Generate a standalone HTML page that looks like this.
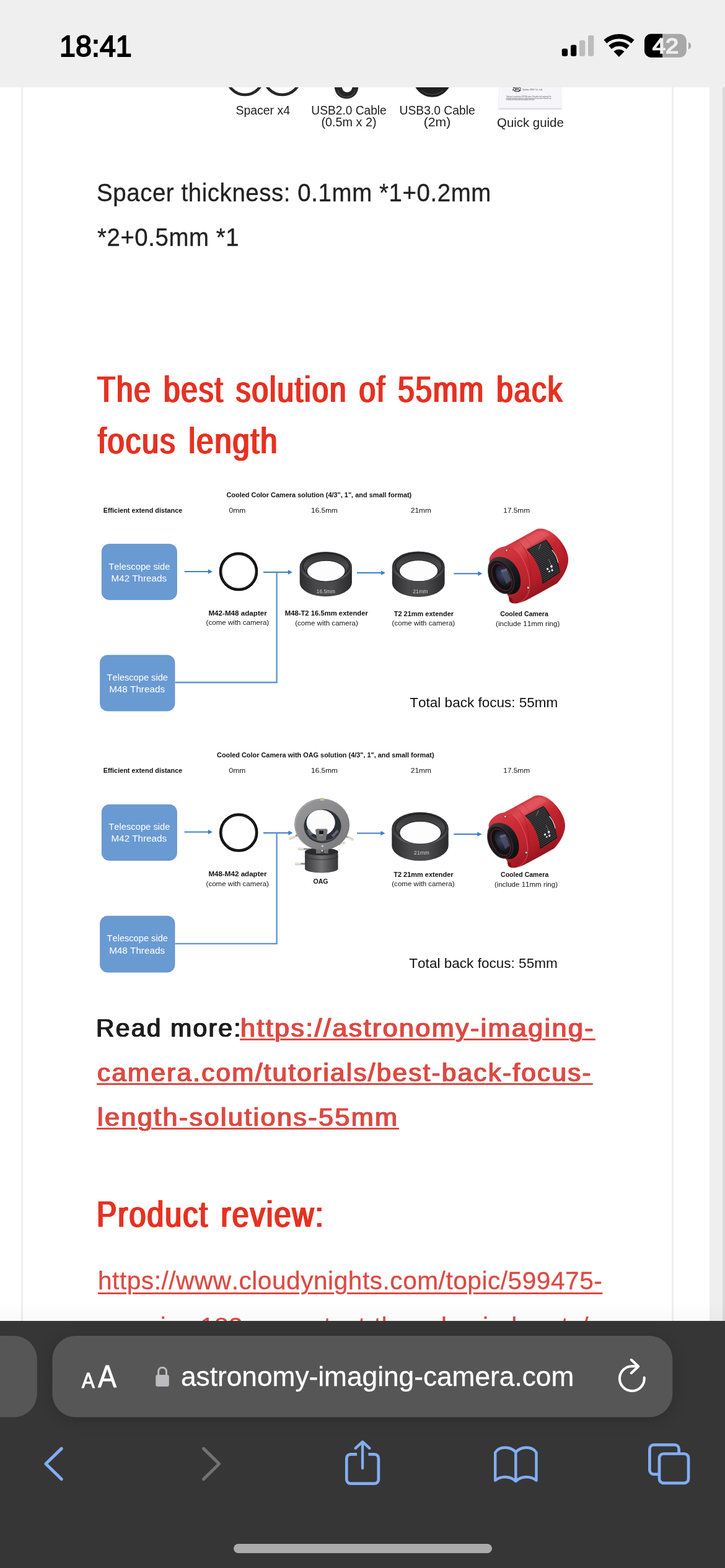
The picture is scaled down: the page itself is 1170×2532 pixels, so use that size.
<!DOCTYPE html>
<html lang="en">
<head>
<meta charset="utf-8">
<meta name="viewport" content="width=1170">
<title>astronomy-imaging-camera.com</title>
<style>
*{box-sizing:border-box;margin:0;padding:0}
html,body{width:1170px;height:2532px;overflow:hidden;background:#fff}
body{position:relative;font-family:"Liberation Sans",sans-serif;color:#222}
#screen{position:absolute;left:0;top:0;width:1170px;height:2532px;overflow:hidden;will-change:transform}
.t{position:absolute;display:block;white-space:nowrap;font-kerning:none;transform-origin:0 50%;font-family:"Liberation Sans",sans-serif}
.abs{position:absolute}
a{color:inherit;text-decoration:none}
svg{position:absolute;overflow:visible}
svg text{font-family:"Liberation Sans",sans-serif;font-kerning:none;white-space:pre}
</style>
</head>
<body>
<div id="screen">

<div class="abs" style="left:34px;top:141px;width:3px;height:1992px;background:#efefef"></div>
<div class="abs" style="left:1084px;top:141px;width:3px;height:1992px;background:#efefef"></div>
<div class="abs" style="left:1145px;top:141px;width:21px;height:1992px;background:#efefef"></div>
<div class="abs" style="left:1166px;top:141px;width:4px;height:1992px;background:#dadada"></div>
<div id="content">
<svg id="accessories" style="left:0;top:100px" width="1170" height="130" viewBox="0 100 1170 130"><circle cx="395.3" cy="123.5" r="29.5" fill="none" stroke="#262626" stroke-width="4.6"/><circle cx="455.4" cy="123.5" r="29.5" fill="none" stroke="#262626" stroke-width="4.6"/><path d="M539.700 140 C540.500 151.500 548 159.400 559.100 159.400 C570.200 159.400 577.700 151.500 578.400 140 H568.600 C568.300 145.200 564.900 149 560.200 149 C555.500 149 552.100 145.200 551.800 140 Z" fill="#262626"/><path d="M545 146 C547.500 153.500 553 156.600 559.100 156.600 C565.200 156.600 570.700 153.500 573.200 146" stroke="#4a4a4a" stroke-width="1.2" fill="none"/><path d="M669.700 140 C676 150.500 686 156.800 697.600 156.800 C709.200 156.800 719.200 150.500 725.400 140 Z" fill="#1f1f1f"/><path d="M680 146 C685 150.500 691 152.600 697.600 152.600 C704.200 152.600 710.200 150.500 715.200 146" stroke="#454545" stroke-width="1.1" fill="none"/><path d="M805.6 140 H905 L906.4 176.700 H804.200 Z" fill="#f6f6fa"/><path d="M804.300 174.600 H906.300 L906.400 177 H804.200 Z" fill="#dddde9"/><path d="M805.6 140 L804.200 176.700 M905 140 L906.400 176.700" stroke="#eeeef4" stroke-width="1.2"/><text transform="translate(827.03 146.20) scale(0.5839 0.7400)" font-size="10" fill="#1a1a22" font-weight="bold" font-style="italic">ZWO</text><path d="M829.500 146.300 q5.500 3.600 10.800 -0.600" stroke="#1a1a22" stroke-width="1.1" fill="none"/><text transform="translate(843.15 145.70) scale(0.3278 0.3600)" font-size="10" fill="#44444c">Suzhou ZWO Co., Ltd</text><text transform="translate(816.65 157.20) scale(0.2052 0.2700)" font-size="10" fill="#55555c">Thank you for purchasing a ZWO ASI camera. This guide is brief summary of the</text><text transform="translate(816.57 159.70) scale(0.1917 0.2700)" font-size="10" fill="#55555c">installation procedure to get you up and running with your new camera. Please be sure</text><text transform="translate(816.67 162.20) scale(0.1889 0.2700)" font-size="10" fill="#55555c">to read the user manual for more complete instructions.</text><text transform="translate(380.42 185.00) scale(0.9921 1)" font-size="19.6" fill="#1c1c1c">Spacer x4</text><text transform="translate(502.32 185.00) scale(0.9785 1)" font-size="19.6" fill="#1c1c1c">USB2.0 Cable</text><text transform="translate(518.47 204.20) scale(1.0106 1)" font-size="19.6" fill="#1c1c1c">(0.5m x 2)</text><text transform="translate(644.51 184.50) scale(0.9851 1)" font-size="19.6" fill="#1c1c1c">USB3.0 Cable</text><text transform="translate(683.68 203.80) scale(1.0832 1)" font-size="19.6" fill="#1c1c1c">(2m)</text><text transform="translate(802.03 205.00) scale(1.0422 1)" font-size="19.6" fill="#1c1c1c">Quick guide</text></svg>
<div class="t" style="left:156.05px;top:290.26px;font-size:41.5px;line-height:41.5px;color:#222;letter-spacing:0.6px;transform:scaleX(0.9271);-webkit-text-stroke:0.35px;">Spacer thickness: 0.1mm *1+0.2mm</div>
<div class="t" style="left:157.18px;top:361.66px;font-size:41.5px;line-height:41.5px;color:#222;letter-spacing:0.6px;transform:scaleX(0.9249);-webkit-text-stroke:0.35px;">*2+0.5mm *1</div>
<div class="t" style="left:157.13px;top:598.54px;font-size:59.6px;line-height:59.6px;color:#e53222;letter-spacing:2.5px;word-spacing:5px;transform:scaleX(0.7966);text-shadow:0.50px 0 0 #e53222,-0.50px 0 0 #e53222,1.00px 0 0 #e53222,-1.00px 0 0 #e53222,1.50px 0 0 #e53222,-1.50px 0 0 #e53222;">The best solution of 55mm back</div>
<div class="t" style="left:157.54px;top:681.74px;font-size:59.6px;line-height:59.6px;color:#e53222;letter-spacing:2.5px;word-spacing:5px;transform:scaleX(0.8178);text-shadow:0.50px 0 0 #e53222,-0.50px 0 0 #e53222,1.00px 0 0 #e53222,-1.00px 0 0 #e53222,1.50px 0 0 #e53222,-1.50px 0 0 #e53222;">focus length</div>
<svg id="diagram1" style="left:0;top:760px" width="1170" height="420" viewBox="0 760 1170 420"><text transform="translate(365.45 802.60) scale(0.9353 1)" font-size="11.7" fill="#111" font-weight="bold">Cooled Color Camera solution (4/3", 1", and small format)</text><text transform="translate(166.67 828.00) scale(0.9264 1)" font-size="11.7" fill="#111" font-weight="bold">Efficient extend distance</text><text transform="translate(369.53 828.00) scale(1.1050 1)" font-size="10.9" fill="#111">0mm</text><text transform="translate(502.10 828.00) scale(1.0892 1)" font-size="10.9" fill="#111">16.5mm</text><text transform="translate(662.70 828.00) scale(1.1028 1)" font-size="10.9" fill="#111">21mm</text><text transform="translate(812.30 828.20) scale(1.0892 1)" font-size="10.9" fill="#111">17.5mm</text><rect x="164.3" y="878.6" width="121.1" height="89.8" rx="12" fill="#6a9ad2" stroke="#6190c9" stroke-width="0.8"/><text transform="translate(175.27 919.50) scale(0.9702 1)" font-size="15.2" fill="#fff">Telescope side</text><text transform="translate(179.55 939.00) scale(1.0005 1)" font-size="15.2" fill="#fff">M42 Threads</text><rect x="161.6" y="1058.0" width="120.4" height="90.1" rx="12" fill="#6a9ad2" stroke="#6190c9" stroke-width="0.8"/><text transform="translate(172.57 1098.50) scale(0.9623 1)" font-size="15.2" fill="#fff">Telescope side</text><text transform="translate(176.15 1118.30) scale(1.0051 1)" font-size="15.2" fill="#fff">M48 Threads</text><path d="M297.7 923 H338" stroke="#3f7ec8" stroke-width="2.1" fill="none"/><path d="M343 923 L335.8 919.2 V926.8Z" fill="#3f7ec8"/><circle cx="385" cy="923" r="29.0" fill="none" stroke="#0c0c0c" stroke-width="4.6"/><circle cx="385" cy="923" r="28.4" fill="none" stroke="#3a3a3a" stroke-width="0.8"/><path d="M425 924 H466" stroke="#3f7ec8" stroke-width="2.1" fill="none"/><path d="M472 924 l-7.2 -3.8 v7.600Z" fill="#3f7ec8"/><path d="M446.6 924 V1102 H282.6" stroke="#5b92d2" stroke-width="2.3" fill="none"/><defs><linearGradient id="eg1" x1="0" x2="1" y1="0" y2="0"><stop offset="0" stop-color="#2c2c2e"/><stop offset="0.3" stop-color="#48484a"/><stop offset="0.62" stop-color="#4c4c4e"/><stop offset="1" stop-color="#29292b"/></linearGradient><linearGradient id="eg1i" x1="0" x2="0" y1="0" y2="1"><stop offset="0" stop-color="#333335"/><stop offset="0.45" stop-color="#4a4a4c"/><stop offset="1" stop-color="#2a2a2c"/></linearGradient><linearGradient id="eg1t" x1="0" x2="0" y1="0" y2="1"><stop offset="0" stop-color="#2a2a2c"/><stop offset="0.6" stop-color="#3c3c3e"/><stop offset="1" stop-color="#6a6a6c"/></linearGradient></defs><path d="M483.7 915.2 V941.0 A42.1 22.3 0 0 0 567.9 941.0 V915.2 Z" fill="url(#eg1)"/><ellipse cx="525.8" cy="915.2" rx="42.1" ry="24.2" fill="url(#eg1t)"/><ellipse cx="526.4" cy="914.6" rx="37.3" ry="21.1" fill="url(#eg1i)" stroke="#1e1e20" stroke-width="1.2"/><ellipse cx="526.2" cy="922.1" rx="30.9" ry="16.9" fill="#fdfdfd" stroke="#252527" stroke-width="1.1"/><text transform="translate(510.87 957.80) scale(0.9880 1)" font-size="8.4" fill="#cdcdcd">16.5mm</text><path d="M576 925 H617" stroke="#3f7ec8" stroke-width="2.1" fill="none"/><path d="M622 925 L614.8 921.2 V928.8Z" fill="#3f7ec8"/><defs><linearGradient id="eg2" x1="0" x2="1" y1="0" y2="0"><stop offset="0" stop-color="#2c2c2e"/><stop offset="0.3" stop-color="#48484a"/><stop offset="0.62" stop-color="#4c4c4e"/><stop offset="1" stop-color="#29292b"/></linearGradient><linearGradient id="eg2i" x1="0" x2="0" y1="0" y2="1"><stop offset="0" stop-color="#333335"/><stop offset="0.45" stop-color="#4a4a4c"/><stop offset="1" stop-color="#2a2a2c"/></linearGradient><linearGradient id="eg2t" x1="0" x2="0" y1="0" y2="1"><stop offset="0" stop-color="#2a2a2c"/><stop offset="0.6" stop-color="#3c3c3e"/><stop offset="1" stop-color="#6a6a6c"/></linearGradient></defs><path d="M632.8 914.9 V941.5 A42.4 22.5 0 0 0 717.6 941.5 V914.9 Z" fill="url(#eg2)"/><ellipse cx="675.2" cy="914.9" rx="42.4" ry="24.4" fill="url(#eg2t)"/><ellipse cx="675.8" cy="914.3" rx="37.5" ry="21.2" fill="url(#eg2i)" stroke="#1e1e20" stroke-width="1.2"/><ellipse cx="675.6" cy="921.8" rx="31.2" ry="17.1" fill="#fdfdfd" stroke="#252527" stroke-width="1.1"/><text transform="translate(666.26 957.60) scale(1.0420 1)" font-size="8.4" fill="#cdcdcd">21mm</text><path d="M732.3 926.3 H773.5" stroke="#3f7ec8" stroke-width="2.1" fill="none"/><path d="M778.5 926.3 L771.3 922.5 V930.0999999999999Z" fill="#3f7ec8"/><g transform="translate(780 845) scale(0.12393)"><defs><linearGradient id="cg3a" gradientUnits="userSpaceOnUse" x1="420" y1="180" x2="900" y2="900"><stop offset="0" stop-color="#cf323b"/><stop offset="0.18" stop-color="#dc4a52"/><stop offset="0.4" stop-color="#c4262f"/><stop offset="0.7" stop-color="#b41e28"/><stop offset="1" stop-color="#84121b"/></linearGradient><linearGradient id="cg3b" gradientUnits="userSpaceOnUse" x1="150" y1="330" x2="560" y2="1000"><stop offset="0" stop-color="#d63d46"/><stop offset="0.35" stop-color="#c92b35"/><stop offset="0.75" stop-color="#b8222c"/><stop offset="1" stop-color="#991720"/></linearGradient><linearGradient id="cg3d" gradientUnits="userSpaceOnUse" x1="80" y1="500" x2="470" y2="900"><stop offset="0" stop-color="#3a3a3c"/><stop offset="0.5" stop-color="#1b1b1d"/><stop offset="1" stop-color="#0e0e10"/></linearGradient><radialGradient id="cg3c" gradientUnits="userSpaceOnUse" cx="270" cy="670" r="170"><stop offset="0" stop-color="#444a62"/><stop offset="0.5" stop-color="#26283a"/><stop offset="1" stop-color="#141416"/></radialGradient></defs><path d="M250 318 L420 228 L690 78 C770 48 890 92 985 205 C1062 295 1110 400 1106 485 C1100 585 1040 700 960 782 L740 906 L560 1002 C500 1032 430 1052 380 1030 Z" fill="url(#cg3a)"/><path d="M985 205 C1062 295 1110 400 1106 485 C1100 585 1040 700 960 782 C1010 700 1050 590 1048 490 C1046 390 1020 290 985 205 Z" fill="#b01c26" opacity="0.55"/><path d="M440 250 L700 105 C760 92 820 110 860 150 L560 330 Z" fill="#f07a80" opacity="0.28"/><path d="M430 222 C560 300 660 520 610 980" stroke="#9c1720" stroke-width="7" fill="none" opacity="0.75"/><path d="M520 178 C650 260 770 520 745 900" stroke="#a81b25" stroke-width="5" fill="none" opacity="0.6"/><path d="M568 344 L818 214 C900 300 975 470 1000 640 L772 790 C760 640 690 460 568 344 Z" fill="#1a1a1c"/><path d="M594 354 L825 233" stroke="#77777b" stroke-width="5.5" fill="none"/><path d="M606 371 L836 250" stroke="#77777b" stroke-width="5.5" fill="none"/><path d="M617 388 L846 268" stroke="#77777b" stroke-width="5.5" fill="none"/><path d="M628 405 L856 285" stroke="#77777b" stroke-width="5.5" fill="none"/><path d="M639 423 L866 303" stroke="#77777b" stroke-width="5.5" fill="none"/><path d="M650 441 L876 321" stroke="#77777b" stroke-width="5.5" fill="none"/><path d="M660 460 L885 340" stroke="#77777b" stroke-width="5.5" fill="none"/><path d="M670 478 L895 358" stroke="#77777b" stroke-width="5.5" fill="none"/><path d="M680 498 L903 377" stroke="#77777b" stroke-width="5.5" fill="none"/><path d="M690 517 L912 396" stroke="#77777b" stroke-width="5.5" fill="none"/><path d="M699 538 L920 416" stroke="#77777b" stroke-width="5.5" fill="none"/><path d="M708 558 L929 435" stroke="#77777b" stroke-width="5.5" fill="none"/><path d="M717 579 L937 455" stroke="#77777b" stroke-width="5.5" fill="none"/><path d="M726 600 L944 475" stroke="#77777b" stroke-width="5.5" fill="none"/><path d="M734 622 L952 495" stroke="#77777b" stroke-width="5.5" fill="none"/><path d="M742 644 L959 515" stroke="#77777b" stroke-width="5.5" fill="none"/><path d="M750 666 L966 536" stroke="#77777b" stroke-width="5.5" fill="none"/><path d="M758 689 L972 557" stroke="#77777b" stroke-width="5.5" fill="none"/><path d="M765 712 L978 578" stroke="#77777b" stroke-width="5.5" fill="none"/><path d="M772 736 L985 599" stroke="#77777b" stroke-width="5.5" fill="none"/><path d="M779 760 L990 620" stroke="#77777b" stroke-width="5.5" fill="none"/><path d="M568 344 L818 214" stroke="#3a3a3c" stroke-width="10"/><path d="M820 590 l22 -12 l10 22 l-22 12 Z M870 556 l24 -13 l10 24 l-24 13 Z M846 624 l18 -10 l8 18 l-18 10 Z M882 606 l20 -11 l9 22 l-20 11 Z" fill="#f4f4f4"/><path d="M896 352 C930 390 960 450 974 510" stroke="#ececec" stroke-width="9" fill="none" stroke-linecap="round"/><path d="M722 338 L748 276" stroke="#d8d8d8" stroke-width="4" fill="none" stroke-linecap="round"/><path d="M850 470 C875 520 890 560 896 600" stroke="#bdbdbd" stroke-width="4" fill="none" stroke-linecap="round"/><path d="M78 470 C84 410 150 340 236 310 C300 290 360 300 400 330 C520 420 610 640 604 830 C600 920 540 1010 450 1040 C410 1052 370 1046 340 1015 L330 960 L80 520 Z" fill="url(#cg3b)"/><path d="M400 330 C520 420 610 640 604 830 C600 920 540 1010 450 1040" stroke="#ef7077" stroke-width="8" fill="none" opacity="0.7"/><path d="M330 960 L340 1015 C352 1030 368 1040 390 1044 L372 975 Z" fill="#7d1018"/><path d="M62 600 C56 540 80 480 150 450 C230 420 330 450 400 530 C470 610 500 730 480 820 C460 900 400 935 330 925 C230 910 80 760 62 600 Z" fill="url(#cg3d)"/><ellipse cx="232" cy="700" rx="150" ry="232" transform="rotate(-27 232 700)" fill="#19191b" stroke="#3c3c3e" stroke-width="7"/><ellipse cx="240" cy="700" rx="112" ry="190" transform="rotate(-27 240 700)" fill="#111113" stroke="#c8242e" stroke-width="5"/><ellipse cx="262" cy="690" rx="86" ry="150" transform="rotate(-27 262 690)" fill="url(#cg3c)"/><path d="M226 612 L300 590 L362 742 L300 790 Z" fill="#4c536e" opacity="0.8"/><path d="M226 612 L300 590 L312 620 L238 644 Z" fill="#6c7492" opacity="0.6"/><circle cx="302" cy="356" r="19" fill="#6a1218"/><circle cx="302" cy="354" r="13" fill="#e6e6e6"/><circle cx="302" cy="354" r="5" fill="#8a8a8a"/><circle cx="584" cy="842" r="20" fill="#6a1218"/><circle cx="584" cy="840" r="14" fill="#e6e6e6"/><circle cx="584" cy="840" r="5" fill="#8a8a8a"/></g><text transform="translate(336.42 993.80) scale(0.9960 1)" font-size="11.7" fill="#111" font-weight="bold">M42-M48 adapter</text><text transform="translate(332.58 1009.20) scale(1.0631 1)" font-size="10.9" fill="#111">(come with camera)</text><text transform="translate(459.75 994.00) scale(0.9645 1)" font-size="11.7" fill="#111" font-weight="bold">M48-T2 16.5mm extender</text><text transform="translate(476.18 1009.50) scale(1.0631 1)" font-size="10.9" fill="#111">(come with camera)</text><text transform="translate(635.78 994.90) scale(0.9381 1)" font-size="11.7" fill="#111" font-weight="bold">T2 21mm extender</text><text transform="translate(632.58 1010.30) scale(1.0631 1)" font-size="10.9" fill="#111">(come with camera)</text><text transform="translate(807.27 995.10) scale(0.9038 1)" font-size="11.7" fill="#111" font-weight="bold">Cooled Camera</text><text transform="translate(800.07 1010.50) scale(1.0741 1)" font-size="10.9" fill="#111">(include 11mm ring)</text><text transform="translate(661.29 1141.50) scale(1.0432 1)" font-size="21.6" fill="#111">Total back focus: 55mm</text></svg>
<svg id="diagram2" style="left:0;top:1180px" width="1170" height="420" viewBox="0 1180 1170 420"><text transform="translate(350.05 1222.60) scale(0.9324 1)" font-size="11.7" fill="#111" font-weight="bold">Cooled Color Camera with OAG solution (4/3", 1", and small format)</text><text transform="translate(166.67 1248.00) scale(0.9264 1)" font-size="11.7" fill="#111" font-weight="bold">Efficient extend distance</text><text transform="translate(369.53 1248.00) scale(1.1050 1)" font-size="10.9" fill="#111">0mm</text><text transform="translate(502.10 1248.00) scale(1.0892 1)" font-size="10.9" fill="#111">16.5mm</text><text transform="translate(662.70 1248.00) scale(1.1028 1)" font-size="10.9" fill="#111">21mm</text><text transform="translate(812.30 1248.20) scale(1.0892 1)" font-size="10.9" fill="#111">17.5mm</text><rect x="164.3" y="1299.3" width="121.1" height="90.1" rx="12" fill="#6a9ad2" stroke="#6190c9" stroke-width="0.8"/><text transform="translate(175.27 1339.70) scale(0.9702 1)" font-size="15.2" fill="#fff">Telescope side</text><text transform="translate(179.55 1359.20) scale(1.0005 1)" font-size="15.2" fill="#fff">M42 Threads</text><rect x="161.6" y="1479.2" width="120.4" height="90.8" rx="12" fill="#6a9ad2" stroke="#6190c9" stroke-width="0.8"/><text transform="translate(172.57 1520.30) scale(0.9623 1)" font-size="15.2" fill="#fff">Telescope side</text><text transform="translate(176.15 1540.20) scale(1.0051 1)" font-size="15.2" fill="#fff">M48 Threads</text><path d="M297.7 1343.5 H338" stroke="#3f7ec8" stroke-width="2.1" fill="none"/><path d="M343 1343.5 L335.8 1339.7 V1347.3Z" fill="#3f7ec8"/><circle cx="385.2" cy="1344.5" r="29.0" fill="none" stroke="#0c0c0c" stroke-width="4.6"/><circle cx="385.2" cy="1344.5" r="28.4" fill="none" stroke="#3a3a3a" stroke-width="0.8"/><path d="M425 1345 H466" stroke="#3f7ec8" stroke-width="2.1" fill="none"/><path d="M472.600 1345 l-7.2 -3.8 v7.600Z" fill="#3f7ec8"/><path d="M446.6 1345 V1523.8 H282.6" stroke="#5b92d2" stroke-width="2.3" fill="none"/><g transform="translate(460 1270) scale(0.10684)"><defs><linearGradient id="og4a" x1="0" y1="0" x2="1" y2="0"><stop offset="0" stop-color="#3a3a3c"/><stop offset="0.25" stop-color="#555557"/><stop offset="0.5" stop-color="#737375"/><stop offset="0.75" stop-color="#525254"/><stop offset="1" stop-color="#363638"/></linearGradient><linearGradient id="og4b" x1="0" y1="0" x2="1" y2="1"><stop offset="0" stop-color="#9a9a9c"/><stop offset="0.45" stop-color="#8a8a8c"/><stop offset="1" stop-color="#7a7a7c"/></linearGradient><linearGradient id="og4s" x1="0" y1="0" x2="0" y2="1"><stop offset="0" stop-color="#f4f2ea"/><stop offset="1" stop-color="#cfcabb"/></linearGradient></defs><g transform="translate(60 790) rotate(-22.8)"><rect x="104.46197490364999" y="-13" width="40" height="26" fill="#8c8c88"/><rect x="0" y="-22" width="108" height="44" rx="9" fill="url(#og4s)"/></g><g transform="translate(192 940) rotate(2.6)"><rect x="84.09086218218096" y="-13" width="130" height="26" fill="#8c8c88"/><rect x="0" y="-22" width="88" height="44" rx="9" fill="url(#og4s)"/></g><g transform="translate(150 1166) rotate(1.3)"><rect x="86.0222194794152" y="-14" width="90" height="28" fill="#8c8c88"/><rect x="0" y="-23" width="90" height="46" rx="9" fill="url(#og4s)"/></g><g transform="translate(1030 812) rotate(-152.6)"><rect x="91.71311299921238" y="-13" width="30" height="26" fill="#8c8c88"/><rect x="0" y="-22" width="96" height="44" rx="9" fill="url(#og4s)"/></g><g transform="translate(910 856) rotate(168.7)"><rect x="77.58431221748455" y="-12" width="20" height="24" fill="#8c8c88"/><rect x="0" y="-20" width="82" height="40" rx="9" fill="url(#og4s)"/></g><path d="M300 985 V1245 A250 60 0 0 0 800 1245 V985 Z" fill="url(#og4a)"/><ellipse cx="550" cy="985" rx="250" ry="56" fill="#2a2a2c"/><path d="M300 1050 A250 56 0 0 0 800 1050" stroke="#242426" stroke-width="9" fill="none" opacity="0.8"/><path d="M468 930 H652 V1012 H468 Z" fill="#707072"/><path d="M540 930 H590 V1012 H540 Z" fill="#4e4e50"/><ellipse cx="556" cy="572" rx="412" ry="386" fill="#a6a6a8"/><ellipse cx="568" cy="580" rx="406" ry="380" fill="url(#og4b)"/><ellipse cx="556" cy="572" rx="412" ry="386" fill="none" stroke="#6a6a6c" stroke-width="6" opacity="0.7"/><ellipse cx="566" cy="600" rx="282" ry="256" fill="#2b2f36"/><ellipse cx="540" cy="546" rx="216" ry="196" fill="#fcfcfc"/><path d="M310 640 C340 760 470 850 600 840 C720 830 810 760 838 660 C790 770 690 810 590 806 C470 800 360 740 310 640 Z" fill="#4a4f58"/><path d="M330 655 L370 640 L420 720 L380 745 Z M700 740 L790 650 L810 680 L730 770 Z" fill="#70757e" opacity="0.8"/><path d="M460 668 C460 642 486 636 510 642 L598 640 C626 634 646 646 642 672 L618 800 C608 830 492 830 482 800 Z" fill="#737375"/><path d="M516 668 H578 V722 H516 Z" fill="#17191f"/><path d="M516 722 H578 V742 H516 Z" fill="#9a9a9c"/><circle cx="565" cy="900" r="17" fill="#d9d9d9" stroke="#6a6a6c" stroke-width="4"/><circle cx="560" cy="972" r="14" fill="#d0d0d0"/><rect x="528" y="172" width="62" height="44" rx="8" fill="#c4bc9c"/></g><path d="M576 1345.5 H616.5" stroke="#3f7ec8" stroke-width="2.1" fill="none"/><path d="M621.5 1345.5 L614.3 1341.7 V1349.3Z" fill="#3f7ec8"/><defs><linearGradient id="eg5" x1="0" x2="1" y1="0" y2="0"><stop offset="0" stop-color="#2c2c2e"/><stop offset="0.3" stop-color="#48484a"/><stop offset="0.62" stop-color="#4c4c4e"/><stop offset="1" stop-color="#29292b"/></linearGradient><linearGradient id="eg5i" x1="0" x2="0" y1="0" y2="1"><stop offset="0" stop-color="#333335"/><stop offset="0.45" stop-color="#4a4a4c"/><stop offset="1" stop-color="#2a2a2c"/></linearGradient><linearGradient id="eg5t" x1="0" x2="0" y1="0" y2="1"><stop offset="0" stop-color="#2a2a2c"/><stop offset="0.6" stop-color="#3c3c3e"/><stop offset="1" stop-color="#6a6a6c"/></linearGradient></defs><path d="M632.3 1337.8 V1365.8 A45.7 24.2 0 0 0 723.7 1365.8 V1337.8 Z" fill="url(#eg5)"/><ellipse cx="678" cy="1337.8" rx="45.7" ry="26.3" fill="url(#eg5t)"/><ellipse cx="678.6" cy="1337.2" rx="40.4" ry="22.9" fill="url(#eg5i)" stroke="#1e1e20" stroke-width="1.2"/><ellipse cx="678.4" cy="1344.7" rx="33.6" ry="18.4" fill="#fdfdfd" stroke="#252527" stroke-width="1.1"/><text transform="translate(667.85 1380.20) scale(1.0733 1)" font-size="8.4" fill="#cdcdcd">21mm</text><path d="M732.3 1347 H772.5" stroke="#3f7ec8" stroke-width="2.1" fill="none"/><path d="M777.5 1347 L770.3 1343.2 V1350.8Z" fill="#3f7ec8"/><g transform="translate(779.2 1276.1) scale(0.11997)"><defs><linearGradient id="cg6a" gradientUnits="userSpaceOnUse" x1="420" y1="180" x2="900" y2="900"><stop offset="0" stop-color="#cf323b"/><stop offset="0.18" stop-color="#dc4a52"/><stop offset="0.4" stop-color="#c4262f"/><stop offset="0.7" stop-color="#b41e28"/><stop offset="1" stop-color="#84121b"/></linearGradient><linearGradient id="cg6b" gradientUnits="userSpaceOnUse" x1="150" y1="330" x2="560" y2="1000"><stop offset="0" stop-color="#d63d46"/><stop offset="0.35" stop-color="#c92b35"/><stop offset="0.75" stop-color="#b8222c"/><stop offset="1" stop-color="#991720"/></linearGradient><linearGradient id="cg6d" gradientUnits="userSpaceOnUse" x1="80" y1="500" x2="470" y2="900"><stop offset="0" stop-color="#3a3a3c"/><stop offset="0.5" stop-color="#1b1b1d"/><stop offset="1" stop-color="#0e0e10"/></linearGradient><radialGradient id="cg6c" gradientUnits="userSpaceOnUse" cx="270" cy="670" r="170"><stop offset="0" stop-color="#444a62"/><stop offset="0.5" stop-color="#26283a"/><stop offset="1" stop-color="#141416"/></radialGradient></defs><path d="M250 318 L420 228 L690 78 C770 48 890 92 985 205 C1062 295 1110 400 1106 485 C1100 585 1040 700 960 782 L740 906 L560 1002 C500 1032 430 1052 380 1030 Z" fill="url(#cg6a)"/><path d="M985 205 C1062 295 1110 400 1106 485 C1100 585 1040 700 960 782 C1010 700 1050 590 1048 490 C1046 390 1020 290 985 205 Z" fill="#b01c26" opacity="0.55"/><path d="M440 250 L700 105 C760 92 820 110 860 150 L560 330 Z" fill="#f07a80" opacity="0.28"/><path d="M430 222 C560 300 660 520 610 980" stroke="#9c1720" stroke-width="7" fill="none" opacity="0.75"/><path d="M520 178 C650 260 770 520 745 900" stroke="#a81b25" stroke-width="5" fill="none" opacity="0.6"/><path d="M568 344 L818 214 C900 300 975 470 1000 640 L772 790 C760 640 690 460 568 344 Z" fill="#1a1a1c"/><path d="M594 354 L825 233" stroke="#77777b" stroke-width="5.5" fill="none"/><path d="M606 371 L836 250" stroke="#77777b" stroke-width="5.5" fill="none"/><path d="M617 388 L846 268" stroke="#77777b" stroke-width="5.5" fill="none"/><path d="M628 405 L856 285" stroke="#77777b" stroke-width="5.5" fill="none"/><path d="M639 423 L866 303" stroke="#77777b" stroke-width="5.5" fill="none"/><path d="M650 441 L876 321" stroke="#77777b" stroke-width="5.5" fill="none"/><path d="M660 460 L885 340" stroke="#77777b" stroke-width="5.5" fill="none"/><path d="M670 478 L895 358" stroke="#77777b" stroke-width="5.5" fill="none"/><path d="M680 498 L903 377" stroke="#77777b" stroke-width="5.5" fill="none"/><path d="M690 517 L912 396" stroke="#77777b" stroke-width="5.5" fill="none"/><path d="M699 538 L920 416" stroke="#77777b" stroke-width="5.5" fill="none"/><path d="M708 558 L929 435" stroke="#77777b" stroke-width="5.5" fill="none"/><path d="M717 579 L937 455" stroke="#77777b" stroke-width="5.5" fill="none"/><path d="M726 600 L944 475" stroke="#77777b" stroke-width="5.5" fill="none"/><path d="M734 622 L952 495" stroke="#77777b" stroke-width="5.5" fill="none"/><path d="M742 644 L959 515" stroke="#77777b" stroke-width="5.5" fill="none"/><path d="M750 666 L966 536" stroke="#77777b" stroke-width="5.5" fill="none"/><path d="M758 689 L972 557" stroke="#77777b" stroke-width="5.5" fill="none"/><path d="M765 712 L978 578" stroke="#77777b" stroke-width="5.5" fill="none"/><path d="M772 736 L985 599" stroke="#77777b" stroke-width="5.5" fill="none"/><path d="M779 760 L990 620" stroke="#77777b" stroke-width="5.5" fill="none"/><path d="M568 344 L818 214" stroke="#3a3a3c" stroke-width="10"/><path d="M820 590 l22 -12 l10 22 l-22 12 Z M870 556 l24 -13 l10 24 l-24 13 Z M846 624 l18 -10 l8 18 l-18 10 Z M882 606 l20 -11 l9 22 l-20 11 Z" fill="#f4f4f4"/><path d="M896 352 C930 390 960 450 974 510" stroke="#ececec" stroke-width="9" fill="none" stroke-linecap="round"/><path d="M722 338 L748 276" stroke="#d8d8d8" stroke-width="4" fill="none" stroke-linecap="round"/><path d="M850 470 C875 520 890 560 896 600" stroke="#bdbdbd" stroke-width="4" fill="none" stroke-linecap="round"/><path d="M78 470 C84 410 150 340 236 310 C300 290 360 300 400 330 C520 420 610 640 604 830 C600 920 540 1010 450 1040 C410 1052 370 1046 340 1015 L330 960 L80 520 Z" fill="url(#cg6b)"/><path d="M400 330 C520 420 610 640 604 830 C600 920 540 1010 450 1040" stroke="#ef7077" stroke-width="8" fill="none" opacity="0.7"/><path d="M330 960 L340 1015 C352 1030 368 1040 390 1044 L372 975 Z" fill="#7d1018"/><path d="M62 600 C56 540 80 480 150 450 C230 420 330 450 400 530 C470 610 500 730 480 820 C460 900 400 935 330 925 C230 910 80 760 62 600 Z" fill="url(#cg6d)"/><ellipse cx="232" cy="700" rx="150" ry="232" transform="rotate(-27 232 700)" fill="#19191b" stroke="#3c3c3e" stroke-width="7"/><ellipse cx="240" cy="700" rx="112" ry="190" transform="rotate(-27 240 700)" fill="#111113" stroke="#c8242e" stroke-width="5"/><ellipse cx="262" cy="690" rx="86" ry="150" transform="rotate(-27 262 690)" fill="url(#cg6c)"/><path d="M226 612 L300 590 L362 742 L300 790 Z" fill="#4c536e" opacity="0.8"/><path d="M226 612 L300 590 L312 620 L238 644 Z" fill="#6c7492" opacity="0.6"/><circle cx="302" cy="356" r="19" fill="#6a1218"/><circle cx="302" cy="354" r="13" fill="#e6e6e6"/><circle cx="302" cy="354" r="5" fill="#8a8a8a"/><circle cx="584" cy="842" r="20" fill="#6a1218"/><circle cx="584" cy="840" r="14" fill="#e6e6e6"/><circle cx="584" cy="840" r="5" fill="#8a8a8a"/></g><text transform="translate(336.42 1414.90) scale(0.9929 1)" font-size="11.7" fill="#111" font-weight="bold">M48-M42 adapter</text><text transform="translate(332.58 1430.50) scale(1.0599 1)" font-size="10.9" fill="#111">(come with camera)</text><text transform="translate(505.46 1426.70) scale(0.9078 1)" font-size="11.7" fill="#111" font-weight="bold">OAG</text><text transform="translate(635.28 1415.60) scale(0.9381 1)" font-size="11.7" fill="#111" font-weight="bold">T2 21mm extender</text><text transform="translate(632.28 1431.00) scale(1.0599 1)" font-size="10.9" fill="#111">(come with camera)</text><text transform="translate(808.07 1416.20) scale(0.9003 1)" font-size="11.7" fill="#111" font-weight="bold">Cooled Camera</text><text transform="translate(797.98 1431.50) scale(1.0614 1)" font-size="10.9" fill="#111">(include 11mm ring)</text><text transform="translate(660.29 1563.00) scale(1.0454 1)" font-size="21.6" fill="#111">Total back focus: 55mm</text></svg>
<div class="t" style="left:155.41px;top:1640.39px;font-size:40.4px;line-height:40.4px;color:#1e1e1e;letter-spacing:2.2px;transform:scaleX(1.0117);-webkit-text-stroke:0.5px;text-shadow:0.38px 0 0 #1e1e1e,-0.38px 0 0 #1e1e1e,0.75px 0 0 #1e1e1e,-0.75px 0 0 #1e1e1e;">Read more:</div>
<a class="t" style="left:388.00px;top:1640.39px;font-size:40.4px;line-height:40.4px;color:#dc4a43;letter-spacing:2.2px;transform:scaleX(1.0683);-webkit-text-stroke:0.5px;text-shadow:0.38px 0 0 #dc4a43,-0.38px 0 0 #dc4a43,0.75px 0 0 #dc4a43,-0.75px 0 0 #dc4a43;text-decoration:underline;text-decoration-thickness:3.2px;text-underline-offset:3.4px;text-decoration-skip-ink:auto;">https://astronomy-imaging-</a>
<a class="t" style="left:157.00px;top:1712.49px;font-size:40.4px;line-height:40.4px;color:#dc4a43;letter-spacing:2.2px;transform:scaleX(1.0428);-webkit-text-stroke:0.5px;text-shadow:0.38px 0 0 #dc4a43,-0.38px 0 0 #dc4a43,0.75px 0 0 #dc4a43,-0.75px 0 0 #dc4a43;text-decoration:underline;text-decoration-thickness:3.2px;text-underline-offset:3.4px;text-decoration-skip-ink:auto;">camera.com/tutorials/best-back-focus-</a>
<a class="t" style="left:157.00px;top:1784.29px;font-size:40.4px;line-height:40.4px;color:#dc4a43;letter-spacing:2.2px;transform:scaleX(1.0695);-webkit-text-stroke:0.5px;text-shadow:0.38px 0 0 #dc4a43,-0.38px 0 0 #dc4a43,0.75px 0 0 #dc4a43,-0.75px 0 0 #dc4a43;text-decoration:underline;text-decoration-thickness:3.2px;text-underline-offset:3.4px;text-decoration-skip-ink:auto;">length-solutions-55mm</a>
<div class="t" style="left:155.95px;top:1930.84px;font-size:59.6px;line-height:59.6px;color:#e53222;letter-spacing:2.5px;word-spacing:5px;transform:scaleX(0.8119);text-shadow:0.50px 0 0 #e53222,-0.50px 0 0 #e53222,1.00px 0 0 #e53222,-1.00px 0 0 #e53222,1.50px 0 0 #e53222,-1.50px 0 0 #e53222;">Product review:</div>
<a class="t" style="left:157.60px;top:2048.09px;font-size:40.4px;line-height:40.4px;color:#dc4a43;letter-spacing:0.5px;transform:scaleX(1.0066);-webkit-text-stroke:0.3px;text-decoration:underline;text-decoration-thickness:3.0px;text-underline-offset:4.6px;text-decoration-skip-ink:auto;">https://www.cloudynights.com/topic/599475-</a>
<a class="t" style="left:157.38px;top:2121.89px;font-size:40.4px;line-height:40.4px;color:#dc4a43;letter-spacing:0.5px;-webkit-text-stroke:0.3px;">sony-imx183-mono-test-thread-asi-qhy-etc/</a>
</div>
<div id="statusbar" class="abs" style="left:0;top:0;width:1170px;height:141px;background:#efefef">
<div class="t" style="left:95.84px;top:50.98px;font-size:47.5px;line-height:47.5px;color:#000;transform:scaleX(0.9829);-webkit-text-stroke:1.8px #000;">18:41</div>
<svg style="left:0;top:0" width="1170" height="141" viewBox="0 0 1170 141"><rect x="906.8" y="78.6" width="9.3" height="12.1" rx="2.6" fill="#000"/><rect x="921" y="72.4" width="9.3" height="18.3" rx="2.6" fill="#000"/><rect x="935" y="65" width="9.3" height="25.7" rx="2.6" fill="#bcbcbc"/><rect x="949" y="57" width="9.3" height="33.7" rx="2.6" fill="#bcbcbc"/><path d="M975.23 64.47A36.6 36.6 0 0 1 1022.77 64.47L1018.74 69.18A30.4 30.4 0 0 0 979.26 69.18Z" fill="#000" stroke="#000" stroke-width="1.2" stroke-linejoin="round"/><path d="M983.02 73.59A24.6 24.6 0 0 1 1014.98 73.59L1010.95 78.31A18.4 18.4 0 0 0 987.05 78.31Z" fill="#000" stroke="#000" stroke-width="1.2" stroke-linejoin="round"/><path d="M991.21 83.18A12.0 12.0 0 0 1 1006.79 83.18L999.0 91.1Z" fill="#000" stroke="#000" stroke-width="1.2" stroke-linejoin="round"/><clipPath id="batc"><rect x="1040" y="54.8" width="67.8" height="37.9" rx="10.5"/></clipPath><g clip-path="url(#batc)"><rect x="1040" y="54" width="68" height="40" fill="#a8a8a8"/><rect x="1040" y="54" width="29" height="40" fill="#000"/></g><path d="M1111 68.3 C1113.6 69.2 1115.2 71.4 1115.2 74 C1115.2 76.6 1113.6 78.8 1111 79.7Z" fill="#a8a8a8"/></svg>
<div class="t" style="left:1053.03px;top:56.17px;font-size:35px;line-height:35px;color:#efefef;transform:scaleX(1.0834);-webkit-text-stroke:1.7px #efefef;">42</div>
</div>
<div class="abs" style="left:0;top:2103px;width:1170px;height:30px;background:linear-gradient(to bottom,rgba(0,0,0,0),rgba(0,0,0,0.022))"></div>
<div id="toolbar" class="abs" style="left:0;top:2133px;width:1170px;height:399px;background:#363636"></div>
<svg style="left:0;top:2093px" width="1170" height="220" viewBox="0 2093 1170 220"><defs><filter id="pillsh" x="-6%" y="-45%" width="112%" height="190%"><feGaussianBlur stdDeviation="12"/></filter></defs><rect x="84.4" y="2160" width="1001" height="131.7" rx="38" fill="#000" opacity="0.17" filter="url(#pillsh)"/><rect x="-60" y="2156.9" width="119.8" height="131.7" rx="38" fill="#565656"/><rect id="urlbar" x="84.4" y="2156.9" width="1001" height="131.7" rx="38" fill="#565656"/></svg>
<div class="t" style="left:131.74px;top:2210.97px;font-size:35px;line-height:35px;color:#fff;transform:scaleX(0.8876);-webkit-text-stroke:1.1px #fff;">A</div>
<div class="t" style="left:157.61px;top:2198.37px;font-size:50px;line-height:50px;color:#fff;transform:scaleX(0.9018);-webkit-text-stroke:0.8px #fff;">A</div>
<div class="t" style="left:292.42px;top:2200.55px;font-size:44px;line-height:44px;color:#fff;transform:scaleX(1.0054);-webkit-text-stroke:0.3px #fff;">astronomy-imaging-camera.com</div>
<svg style="left:0;top:2133px" width="1170" height="399" viewBox="0 2133 1170 399" fill="none"><rect x="251.3" y="2220" width="21.5" height="19" rx="3.2" fill="#bbbbc0"/><path d="M255.6 2221 V2214.6 a6.45 6.45 0 0 1 12.9 0 V2221" stroke="#bbbbc0" stroke-width="3"/><path d="M1039.7 2224.6 A19.9 19.9 0 1 1 1022 2206.3 H1029" stroke="#fff" stroke-width="4.1" stroke-linecap="round"/><path d="M1018.8 2195.8 L1030.2 2206.4 L1018.8 2217.2" stroke="#fff" stroke-width="4.1" stroke-linecap="round" stroke-linejoin="round"/><path d="M99.3 2339.1 L73.9 2363.8 L99.3 2388.5" stroke="#82aef4" stroke-width="5" stroke-linecap="round" stroke-linejoin="round"/><path d="M328.5 2339.1 L353.7 2363.8 L328.5 2388.5" stroke="#727272" stroke-width="5" stroke-linecap="round" stroke-linejoin="round"/><path d="M576 2348.3 H565.9 a6.6 6.6 0 0 0 -6.6 6.6 V2389.1 a6.6 6.6 0 0 0 6.6 6.6 H604.25 a6.6 6.6 0 0 0 6.6 -6.6 V2354.9 a6.6 6.6 0 0 0 -6.6 -6.6 H594.4" stroke="#82aef4" stroke-width="4.7"/><path d="M585.05 2370.9 V2329.5 M573.7 2338.7 L585.05 2328.2 L596.4 2338.7" stroke="#82aef4" stroke-width="4.3" stroke-linecap="round" stroke-linejoin="round"/><path d="M832.35 2344.8 C827.9 2340.1 821 2337.5 815.5 2337.5 C810 2337.5 803 2339.4 799.2 2345.6 V2390.6 C803.5 2387 809.5 2385 815.5 2385 C821.5 2385 827.5 2387.5 832.35 2391.8 M832.35 2344.8 C836.8 2340.1 843.7 2337.5 849.2 2337.5 C854.7 2337.5 861.7 2339.4 865.5 2345.6 V2390.6 C861.2 2387 855.2 2385 849.2 2385 C843.2 2385 837.2 2387.5 832.35 2391.8 M832.35 2344.8 V2391.8" stroke="#82aef4" stroke-width="4.4" stroke-linejoin="round" stroke-linecap="round"/><path d="M1064 2380.6 H1054.9 a6.5 6.5 0 0 1 -6.5 -6.5 V2339.7 a6.5 6.5 0 0 1 6.5 -6.5 H1089.1 a6.5 6.5 0 0 1 6.5 6.5 V2347.4" stroke="#82aef4" stroke-width="4.7"/><rect x="1064" y="2347.5" width="47" height="47.3" rx="6.8" stroke="#82aef4" stroke-width="4.7"/><rect x="377" y="2493" width="417" height="15" rx="7.5" fill="#ababab"/></svg>
</div>
</body>
</html>
